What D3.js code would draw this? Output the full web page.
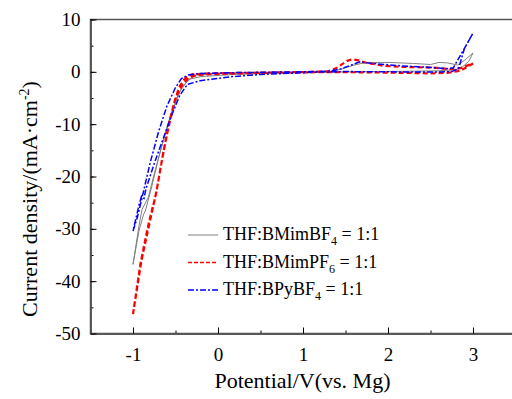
<!DOCTYPE html>
<html>
<head>
<meta charset="utf-8">
<script src="https://cdn.jsdelivr.net/npm/d3@7"></script>
<style>
  body { margin: 0; background: #fff; }
  svg text { font-family: "Liberation Serif", "Times New Roman", Times, "DejaVu Serif", serif; fill: #000; }
</style>
</head>
<body>
<div id="chart-area"></div>
<script>
// CV curves, [potential V, current density mA/cm2]
const bmimBF4 = [
    [-1, -36.8], [-0.93, -30.4], [-0.875, -27.2], [-0.855, -26.6], [-0.78, -22], [-0.7, -16.5],
    [-0.6, -10.5], [-0.5, -5.6], [-0.42, -2.8], [-0.33, -1.4], [-0.2, -0.9], [0.2, -0.5],
    [0.8, -0.2], [1.3, 0], [1.45, 0.5], [1.6, 1.3], [1.75, 1.8], [2.0, 1.8], [2.3, 1.6],
    [2.5, 1.4], [2.6, 1.8], [2.7, 1.7], [2.82, 1.3], [2.9, 2.2], [3.0, 3.6],
    [2.95, 2.0], [2.88, 1.0], [2.8, 0.4], [2.6, 0.2], [2.2, 0.1], [1.6, 0], [1.0, -0.1],
    [0.4, -0.2], [0, -0.3], [-0.25, -0.6], [-0.35, -1.5], [-0.45, -3.8], [-0.55, -8],
    [-0.65, -13.5], [-0.75, -19.5], [-0.82, -24], [-0.894, -26.3], [-0.93, -29.5], [-1, -36.8]
];
const bmimPF6 = [
    [-1, -46.3], [-0.914, -36.8], [-0.835, -30.4], [-0.8, -27.9], [-0.73, -23.4], [-0.66, -16.9],
    [-0.6, -12], [-0.53, -6.8], [-0.46, -3], [-0.4, -1.5], [-0.36, -0.8], [-0.3, -0.5],
    [-0.1, -0.3], [0.3, -0.2], [1.0, -0.05], [1.3, 0.1], [1.4, 0.8], [1.52, 2.1], [1.58, 2.4],
    [1.65, 2.2], [1.75, 1.7], [1.95, 1.15], [2.15, 0.95], [2.54, 0.8], [2.73, 0.5], [2.85, 0.7],
    [3.0, 1.6],
    [2.85, 0.2], [2.7, -0.2], [2.5, -0.3], [2.2, -0.2], [1.8, -0.1], [1.3, -0.05], [0.5, -0.2],
    [0, -0.4], [-0.25, -0.6], [-0.35, -1.2], [-0.42, -2.5], [-0.5, -5], [-0.58, -10],
    [-0.65, -16], [-0.72, -22.5], [-0.8, -28.5], [-0.9, -36], [-1, -46.3]
];
const bpyBF4 = [
    [-1, -30.4], [-0.95, -27.9], [-0.9, -24.5], [-0.8, -17.5], [-0.7, -11.5], [-0.6, -6.5],
    [-0.5, -3], [-0.43, -1.3], [-0.35, -0.6], [-0.2, -0.3], [0.2, -0.15], [1.0, 0], [1.3, 0.1],
    [1.45, 0.6], [1.67, 1.9], [1.79, 1.65], [2.15, 1.15], [2.54, 0.8], [2.7, 0.6], [2.77, 0.8],
    [3.0, 7.4],
    [2.9, 4.5], [2.83, 0.6], [2.75, 0.05], [2.5, -0.05], [2.0, 0], [1.5, 0.05], [1.2, -0.05],
    [0.5, -0.5], [0.15, -0.95], [-0.21, -1.7], [-0.36, -2.4], [-0.45, -4.5], [-0.55, -8.5],
    [-0.65, -13], [-0.75, -17.5], [-0.85, -22.5], [-0.87, -24.2], [-0.9, -23.8], [-0.93, -25.5],
    [-1, -30.4]
];

const seriesNames = ['THF:BMimBF', 'THF:BMimPF', 'THF:BPyBF'];
const seriesSubs = ['4', '6', '4'];
const xTicks = [-1, 0, 1, 2, 3];
const yTicks = [-50, -40, -30, -20, -10, 0, 10];

const width = 512;
const height = 399;
const serif = '"Liberation Serif", "Times New Roman", Times, "DejaVu Serif", serif';

let svg = d3.select('#chart-area').append('svg')
    .attr('width', width)
    .attr('height', height)
    .attr('font-family', serif);

let x = d3.scaleLinear().domain([-1.5, 3.5]).range([90.5, 515.5]);
let y = d3.scaleLinear().domain([-50, 10]).range([333.5, 19.5]);

svg.append('clipPath').attr('id', 'plot-clip')
    .append('rect')
    .attr('x', x(-1.5)).attr('y', y(10))
    .attr('width', x(3.5) - x(-1.5)).attr('height', y(-50) - y(10));

// frame (right edge falls outside the window)
svg.append('rect')
    .attr('x', x(-1.5)).attr('y', y(10))
    .attr('width', x(3.5) - x(-1.5)).attr('height', y(-50) - y(10))
    .attr('fill', 'none')
    .attr('stroke', '#555')
    .attr('stroke-width', 1.5);

// minor ticks
let bottomMinor = d3.axisBottom(x).tickValues(d3.range(-1.5, 3.51, 0.5))
    .tickSizeInner(-3).tickSizeOuter(0).tickFormat('');
svg.append('g').attr('class', 'x minor')
    .attr('transform', `translate(0, ${y(-50)})`)
    .call(bottomMinor);

let leftMinor = d3.axisLeft(y).tickValues(d3.range(-50, 10.1, 5))
    .tickSizeInner(-3).tickSizeOuter(0).tickFormat('');
svg.append('g').attr('class', 'y minor')
    .attr('transform', `translate(${x(-1.5)}, 0)`)
    .call(leftMinor);

let bottomAxis = d3.axisBottom(x).tickValues(xTicks)
    .tickSizeInner(-6).tickSizeOuter(0).tickPadding(14)
    .tickFormat((d) => String(d));
svg.append('g').attr('class', 'bottom axis')
    .attr('transform', `translate(0, ${y(-50)})`)
    .call(bottomAxis);

let leftAxis = d3.axisLeft(y).tickValues(yTicks)
    .tickSizeInner(-6).tickSizeOuter(0).tickPadding(10)
    .tickFormat((d) => String(d));
svg.append('g').attr('class', 'left axis')
    .attr('transform', `translate(${x(-1.5)}, 0)`)
    .call(leftAxis);

svg.selectAll('.axis, .minor').attr('font-family', serif).attr('font-size', 19);
svg.selectAll('.axis text').attr('fill', '#000');
svg.selectAll('.axis .domain, .minor .domain').attr('stroke', '#555').attr('stroke-width', 1.5);
svg.selectAll('.axis .tick line, .minor .tick line').attr('stroke', '#000');

// curves
let line = d3.line().x((d) => x(d[0])).y((d) => y(d[1]));
let plot = svg.append('g').attr('clip-path', 'url(#plot-clip)');

let styles = [
    { color: '#808080', width: 1, dash: null },
    { color: '#ff0000', width: 2.2, dash: '5,3' },
    { color: '#0000ff', width: 1.5, dash: '6,2,2,2' }
];

[bmimBF4, bmimPF6, bpyBF4].forEach((data, i) => {
    plot.append('path')
        .datum(data)
        .attr('d', line)
        .attr('fill', 'none')
        .attr('stroke', styles[i].color)
        .attr('stroke-width', styles[i].width)
        .attr('stroke-dasharray', styles[i].dash);
});

// legend
let legend = svg.append('g').attr('transform', 'translate(188, 235)');
seriesNames.forEach((name, i) => {
    let row = legend.append('g').attr('transform', `translate(0, ${i * 27.5})`);
    row.append('line')
        .attr('x1', 0).attr('x2', 30)
        .attr('stroke', styles[i].color)
        .attr('stroke-width', i === 0 ? 1 : 1.3)
        .attr('stroke-dasharray', i === 1 ? '4,2' : styles[i].dash);
    let t = row.append('text')
        .attr('x', 35).attr('y', 5)
        .attr('font-size', 18);
    t.append('tspan').text(name);
    t.append('tspan').attr('font-size', 12).attr('dy', 5).text(seriesSubs[i]);
    t.append('tspan').attr('dy', -5).text(' = 1:1');
});

svg.append('text')
    .attr('class', 'x axis-label')
    .attr('x', 302.5)
    .attr('y', 388)
    .attr('font-size', 22)
    .attr('text-anchor', 'middle')
    .text('Potential/V(vs. Mg)');

let yLabel = svg.append('text')
    .attr('class', 'y axis-label')
    .attr('transform', 'translate(37, 199) rotate(-90)')
    .attr('font-size', 22)
    .attr('text-anchor', 'middle');
yLabel.append('tspan').text('Current density/(mA·cm');
yLabel.append('tspan').attr('font-size', 14).attr('dy', -8).text('-2');
yLabel.append('tspan').attr('dy', 8).text(')');
</script>
</body>
</html>
